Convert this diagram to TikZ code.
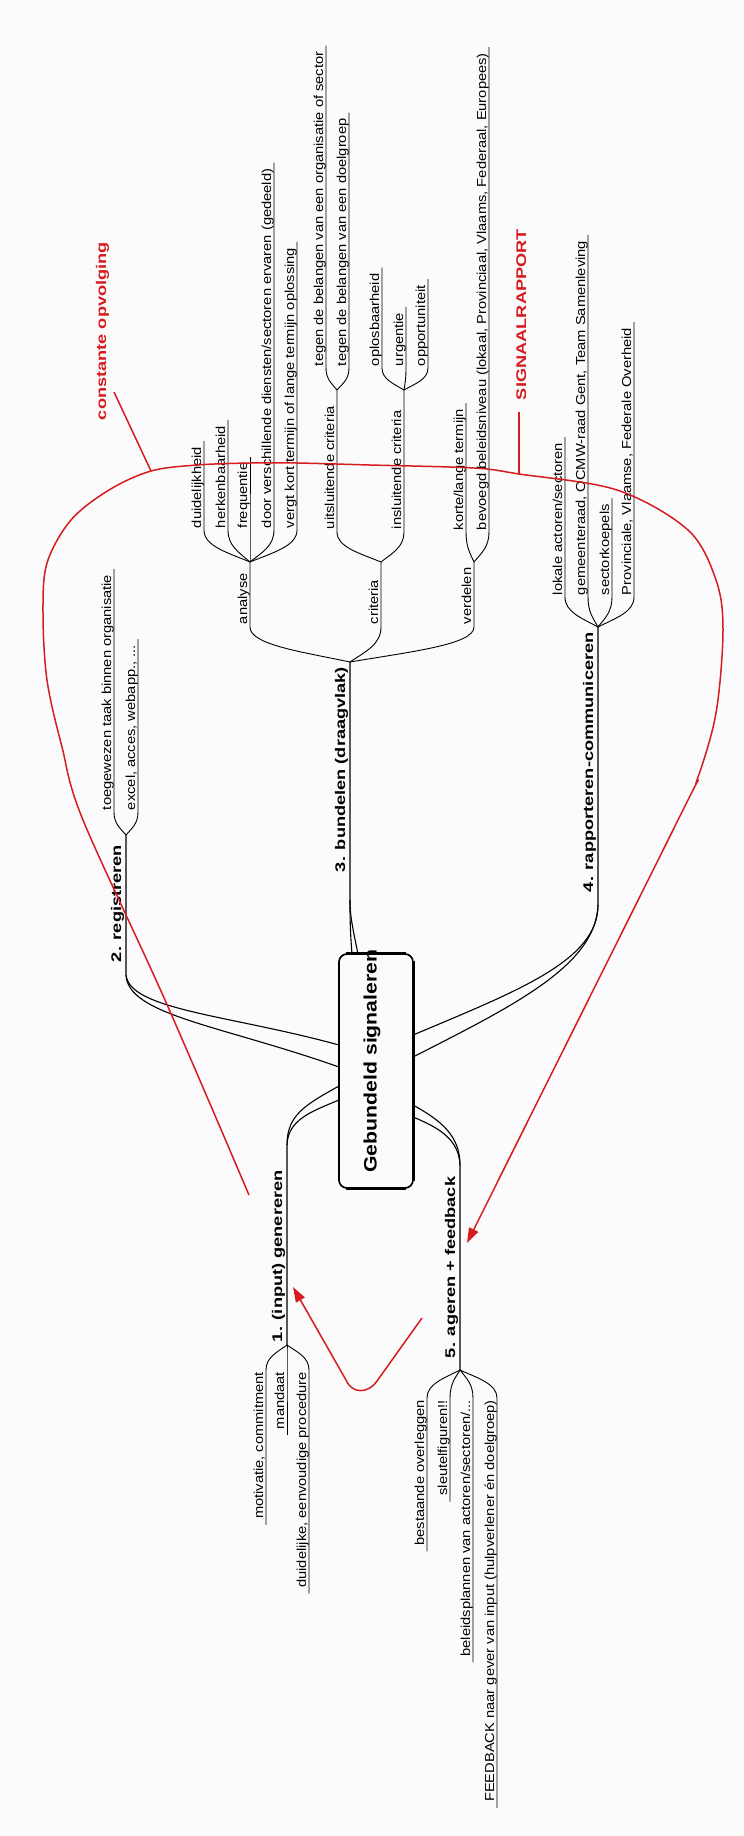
\documentclass[tikz,border=0pt]{standalone}
\usepackage{fontspec}
\setmainfont{Liberation Sans}
\usetikzlibrary{arrows.meta,calc}
\definecolor{sigred}{RGB}{214,28,32}
\definecolor{paper}{RGB}{251,251,251}
\newcommand\strN[1]{\scalebox{1.13}[1]{#1}}
\newcommand\strB[1]{\scalebox{1.3}[1]{#1}}
\tikzset{
  leaf/.style={rotate=90, inner sep=0pt, outer sep=0pt, font=\fontsize{13}{15}\selectfont},
  lbl/.style={rotate=90, inner sep=0pt, outer sep=0pt, font=\fontsize{14}{16}\selectfont\bfseries},
  redlbl/.style={lbl, text=sigred},
  twig/.style={draw=black, line width=0.9pt},
  trunk/.style={draw=black, line width=1.1pt},
  redline/.style={draw=sigred, line width=1.5pt},
  redarrow/.style={redline, -{Triangle[length=15pt,width=10pt]}},
  centerbox/.style={draw, line width=1.7pt, rounded corners=8pt, minimum width=74pt, minimum height=234pt, inner sep=0pt},
}
% upward leaf: name, fork x, fork y, x, y where vertical starts, text
\newcommand\leafUp[6]{%
  \node[leaf, anchor=base west] (#1) at ({#4-3},{#5-2}) {\strN{#6}};
  \draw[twig] (#2,#3) .. controls ({(#2+#4)/2},{#3-0.3*(#3-#5)}) and (#4,{#5+0.5*(#3-#5)}) .. (#4,#5) -- ($(#1.base east)+(3,-6)$);
}
% downward leaf
\newcommand\leafDown[6]{%
  \node[leaf, anchor=base east] (#1) at ({#4-3},{#5+2}) {\strN{#6}};
  \draw[twig] (#2,#3) .. controls ({(#2+#4)/2},{#3+0.3*(#5-#3)}) and (#4,{#5-0.5*(#5-#3)}) .. (#4,#5) -- ($(#1.base west)+(3,6)$);
}
% upward intermediate branch: name, fork x, fork y, x, y, end y, text
\newcommand\midUp[7]{%
  \node[leaf, anchor=base west] (#1) at ({#4-3},{#5-3}) {\strN{#7}};
  \draw[twig] (#2,#3) .. controls ({(#2+#4)/2},{#3-0.3*(#3-#5)}) and (#4,{#5+0.5*(#3-#5)}) .. (#4,#5) -- (#4,#6);
}
\begin{document}
\begin{tikzpicture}[x=1pt,y=-1pt]
\useasboundingbox (0,0) rectangle (744,1836);
\fill[paper] (0,0) rectangle (744,1836);

% centre
\node[centerbox] (hub) at (376,1071) {};
\draw[line width=3.2pt] ($(hub.north west)+(8,0)$) -- ($(hub.north east)+(-8,0)$);
\draw[line width=3.2pt] ($(hub.south west)+(8,0)$) -- ($(hub.south east)+(-8,0)$);
\draw[line width=1.2pt] ($(hub.north east)+(0.8,8)$) -- ($(hub.south east)+(0.8,-8)$);
\node[rotate=90, inner sep=0pt, font=\fontsize{18}{20}\selectfont\bfseries] (hubtext) at (372,1061) {\scalebox{1.18}[1]{Gebundeld signaleren}};

% main branches
\coordinate (f1) at (287,1345);
\draw[trunk] (339,1086) .. controls (305,1105) and (287,1115) .. (287,1145) -- (f1);
\draw[trunk] (339,1100) .. controls (310,1112) and (288,1120) .. (287,1145);

\coordinate (f2) at (126,835);
\draw[trunk] (339,1045) .. controls (230,1015) and (130,1010) .. (126,975) -- (f2);
\draw[trunk] (339,1067) .. controls (220,1025) and (128,1015) .. (126,975);

\coordinate (f3) at (350,662);
\draw[trunk] (352,954) .. controls (350,930) and (350,915) .. (350,900) -- (f3);
\draw[trunk] (358,954) .. controls (352,925) and (350,915) .. (350,900);

\coordinate (f4) at (598,627);
\draw[trunk] (413,1035) .. controls (520,990) and (598,960) .. (598,905) -- (f4);
\draw[trunk] (413,1057) .. controls (515,1005) and (596,965) .. (598,905);

\coordinate (f5) at (460,1370);
\draw[trunk] (413,1105) .. controls (440,1120) and (460,1135) .. (460,1165) -- (f5);
\draw[trunk] (413,1117) .. controls (440,1128) and (459,1140) .. (460,1165);

% main labels
\node[lbl, anchor=base west] (t1) at (282,1342) {\strB{1. (input) genereren}};
\node[lbl, anchor=base west] (t2) at (121,962) {\strB{2. registreren}};
\node[lbl, anchor=base west] (t3) at (345,872) {\strB{3. bundelen (draagvlak)}};
\node[lbl, anchor=base west] (t4) at (593,892) {\strB{4. rapporteren-communiceren}};
\node[lbl, anchor=base west] (t5) at (455,1358) {\strB{5. ageren + feedback}};

% branch 1 leaves
\leafDown{a1}{287}{1345}{266}{1370}{motivatie, commitment}
\leafDown{a2}{287}{1345}{287}{1370}{mandaat}
\leafDown{a3}{287}{1345}{309}{1370}{duidelijke, eenvoudige procedure}

% branch 2 leaves
\leafUp{b1}{126}{835}{114}{812}{toegewezen taak binnen organisatie}
\leafUp{b2}{126}{835}{138}{812}{excel, acces, webapp., ...}

% branch 3
\midUp{nan}{350}{662}{250}{627}{562}{analyse}
\midUp{ncr}{350}{662}{381}{627}{562}{criteria}
\midUp{nvd}{350}{662}{474}{627}{562}{verdelen}
\leafUp{c1}{250}{562}{204}{530}{duidelijkheid}
\leafUp{c2}{250}{562}{228}{530}{herkenbaarheid}
\leafUp{c3}{250}{562}{250}{530}{frequentie}
\leafUp{c4}{250}{562}{274}{530}{door verschillende diensten/sectoren ervaren (gedeeld)}
\leafUp{c5}{250}{562}{297}{530}{vergt kort termijn of lange termijn oplossing}
\midUp{nui}{381}{562}{337}{532}{390}{uitsluitende criteria}
\midUp{nin}{381}{562}{404}{532}{390}{insluitende criteria}
\leafUp{d1}{337}{390}{326}{368}{tegen de belangen van een organisatie of sector}
\leafUp{d2}{337}{390}{349}{368}{tegen de belangen van een doelgroep}
\leafUp{e1}{404}{390}{382}{368}{oplosbaarheid}
\leafUp{e2}{404}{390}{406}{368}{urgentie}
\leafUp{e3}{404}{390}{428}{368}{opportuniteit}
\leafUp{g1}{474}{562}{466}{532}{korte/lange termijn}
\leafUp{g2}{474}{562}{489}{532}{bevoegd beleidsniveau (lokaal, Provinciaal, Vlaams, Federaal, Europees)}

% branch 4 leaves
\leafUp{h1}{598}{627}{565}{597}{lokale actoren/sectoren}
\leafUp{h2}{598}{627}{588}{597}{gemeenteraad, OCMW-raad Gent, Team Samenleving}
\leafUp{h3}{598}{627}{612}{597}{sectorkoepels}
\leafUp{h4}{598}{627}{634}{597}{Provinciale, Vlaamse, Federale Overheid}

% branch 5 leaves
\leafDown{k1}{460}{1370}{427}{1398}{bestaande overleggen}
\leafDown{k2}{460}{1370}{450}{1398}{sleutelfiguren!!}
\leafDown{k3}{460}{1370}{473}{1398}{beleidsplannen van actoren/sectoren/...}
\leafDown{k4}{460}{1370}{497}{1398}{FEEDBACK naar gever van input (hulpverlener én doelgroep)}

% red annotations
\node[redlbl, anchor=base west] (opv) at (106,420) {\strB{constante opvolging}};
\node[redlbl, anchor=base west] (srap) at (526,400) {\strB{SIGNAALRAPPORT}};
\coordinate (opvfoot) at (114,392);
\coordinate (loopA) at (151,471);
\coordinate (srapfoot) at (519,412);
\coordinate (loopB) at (519,474);
\draw[redline] (opvfoot) -- (loopA);
\draw[redline] (srapfoot) -- (loopB);

\draw[redarrow] plot[smooth, tension=0.55] coordinates {
 (249,1195) (165,1000) (83,820) (62,747) (47,680) (43,613) (47,563) (71,520)
 (109,490) (151,471) (197,465) (250,463) (297,463) (370,465) (474,468) (519,474)
 (617,490) (688,530) (716,580) (723,630) (716,713) (697,780) (678,820) (467,1243)};

\coordinate (uStart) at (422,1318);
\coordinate (uTip) at (293,1287);
\draw[redarrow] (uStart) -- (377,1381) .. controls (368,1394) and (352,1394) .. (346,1380) -- (uTip);
\end{tikzpicture}
\end{document}
